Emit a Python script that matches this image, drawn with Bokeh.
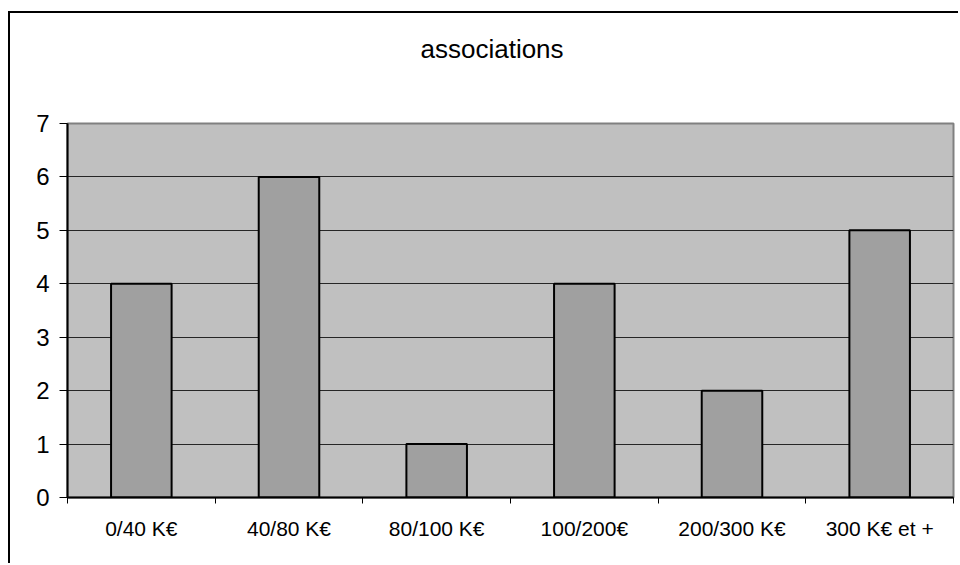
from bokeh.plotting import figure
from bokeh.models import FixedTicker, Range1d
from bokeh.embed import file_html
from bokeh.resources import INLINE

# Data
categories = ["0/40 K€", "40/80 K€", "80/100 K€", "100/200€", "200/300 K€", "300 K€ et +"]
counts = [4, 6, 1, 4, 2, 5]
y_ticks = [0, 1, 2, 3, 4, 5, 6, 7]
title_text = "associations"

FONT = "Liberation Sans"

# category i is drawn on the numeric interval [i, i+1]
centers = [i + 0.5 for i in range(len(categories))]
bounds = list(range(len(categories) + 1))

p = figure(width=950, height=552, output_backend="svg", toolbar_location=None,
           x_range=Range1d(0, len(categories)), y_range=Range1d(0, 7),
           min_border_left=57, min_border_right=7, min_border_top=110,
           min_border_bottom=68, title=title_text)

# chart frame: black rule along the top and left edge of the chart box
p.margin = (11, 0, 0, 8)
p.styles = {"border-left": "2px solid black", "border-top": "2px solid black"}

p.background_fill_color = "#C0C0C0"
p.border_fill_color = "white"
p.outline_line_color = "#808080"
p.outline_line_width = 2

p.title.align = "left"
p.title.offset = 353
p.title.standoff = 10
p.title.padding = dict(left=0, right=0, top=0, bottom=55)
p.title.text_font = FONT
p.title.text_font_size = "26px"
p.title.text_font_style = "normal"
p.title.text_color = "black"

# bars
p.vbar(x=centers, top=counts, width=0.41, bottom=0,
       fill_color="#A0A0A0", line_color="black", line_width=2)

# grid
p.xgrid.visible = False
p.ygrid.ticker = FixedTicker(ticks=y_ticks[1:-1])
p.ygrid.grid_line_color = "#262626"
p.ygrid.grid_line_width = 1

# x axis: labels at centers, tick marks at category boundaries
xa = p.xaxis[0]
xa.ticker = FixedTicker(ticks=centers, minor_ticks=bounds)
xa.major_label_overrides = {c: lab for c, lab in zip(centers, categories)}
xa.major_tick_out = 0
xa.major_tick_in = 0
xa.minor_tick_out = 6
xa.minor_tick_in = 0
xa.minor_tick_line_color = "black"
xa.axis_line_color = "black"
xa.axis_line_width = 2
xa.major_label_text_font = FONT
xa.major_label_text_font_size = "21px"
xa.major_label_text_color = "black"
xa.major_label_standoff = 13

# y axis
ya = p.yaxis[0]
ya.ticker = FixedTicker(ticks=y_ticks)
ya.minor_tick_line_color = None
ya.major_tick_out = 8
ya.major_tick_in = 0
ya.major_tick_line_color = "black"
ya.axis_line_color = "black"
ya.axis_line_width = 2
ya.major_label_text_font = FONT
ya.major_label_text_font_size = "24px"
ya.major_label_text_color = "black"
ya.major_label_standoff = 10

open("out.html", "w").write(file_html(p, INLINE))
